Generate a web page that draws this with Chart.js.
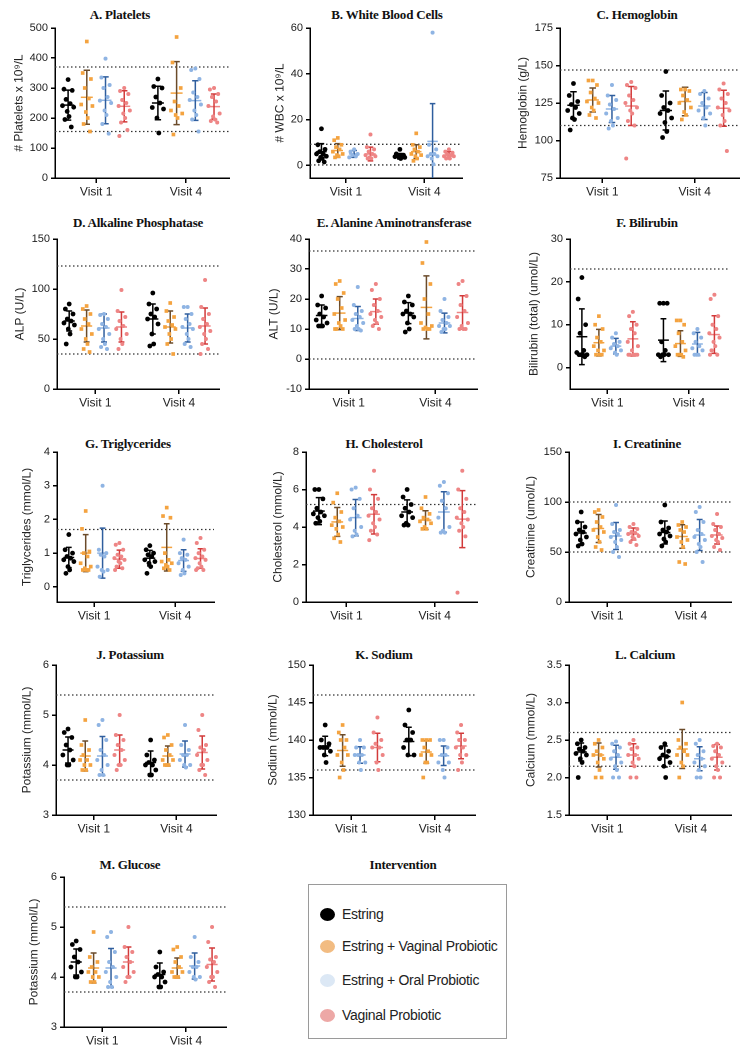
<!DOCTYPE html>
<html>
<head>
<meta charset="utf-8">
<script src="https://cdn.jsdelivr.net/npm/chart.js@4.4.1/dist/chart.umd.min.js"></script>
<style>
body{margin:0;width:750px;height:1062px;background:#fff;position:relative;overflow:hidden;font-family:"Liberation Sans",Arial,sans-serif}
canvas{position:absolute}
.ttl{position:absolute;font:bold 13px "Liberation Serif","Times New Roman",serif;transform:translate(-50%,-50%);white-space:nowrap;color:#111;letter-spacing:-0.2px}
.legbox{position:absolute;border:1.5px solid #9a9a9a;box-sizing:border-box}
.leg{position:absolute;left:0;height:20px;display:flex;align-items:center;font-size:14px;color:#222;white-space:nowrap;letter-spacing:-0.3px}
.leg i{display:inline-block;width:15px;height:13px;border-radius:50%;margin:0 7px 0 11px}
</style>
</head>
<body>
<script>
// group order in every panel: Visit 1 (Estring, +Vaginal, +Oral, Vaginal), then Visit 4 (same)
const groups = ["Estring", "Estring + Vaginal Probiotic", "Estring + Oral Probiotic", "Vaginal Probiotic"];
const visits = ["Visit 1", "Visit 4"];

const plateletsPts = [[328,296,292,262,248,241,236,222,205,195,170],[455,350,330,300,265,245,240,220,200,180,155],[398,335,310,300,270,258,250,225,210,180,148],[300,290,280,260,250,240,225,215,200,185,160,140],
  [330,305,300,270,250,235,230,200,150],[470,385,300,255,240,225,215,210,200,145],[365,360,330,285,270,260,245,225,210,195,155],[300,295,280,270,255,240,215,205,195,190,185]];
const plateletsMean = [243,269,259,239,250,283,258,238];
const plateletsSd = [50,90,78,52,56,105,66,42];
const plateletsRef = [370,155];
const plateletsTicks = [0,100,200,300,400,500];

const wbcPts = [[16,9,7,6,5,5,4,3.5,3,2,1.5],[12,11,9,8,7,6,5,4.5,4,3.5],[7,6,5,4.5,4,3.5],[13.5,8,7,6,5,4.5,4,3.5,3,3],
  [7,5,4.5,4,4,3.8,3.5,3.5,3],[14,9,8,7,6,5,4.5,4,3,2],[58,9,7,5,5,4,4,3,0.5],[7,6,5.5,5,4.5,4,4,3.5,3,3]];
const wbcMean = [6,6.5,5,5,4,6,10.5,4.5];
const wbcSd = [3.5,3,1.5,3,1.2,3,16.5,1.5];
const wbcRef = [9.2,0.2];
const wbcTicks = [0,20,40,60];

const hgbPts = [[138,130,126,124,122,120,118,115,114,107],[140,140,137,132,128,126,125,122,120,117,115],[137,130,127,124,121,118,115,113,110,108],[139,137,135,130,127,125,122,120,118,113,110,88],
  [146,130,125,122,120,118,115,112,106,102],[134,134,133,130,127,125,122,119,117,114],[133,131,128,125,122,120,118,115,110],[138,134,131,128,125,122,120,117,113,110,93]];
const hgbMean = [123.5,127,121,123,120,126,123,121.5];
const hgbSd = [9,8,9,13,13,9.5,9,12];
const hgbRef = [147,110];
const hgbTicks = [75,100,125,150,175];

const alpPts = [[85,80,75,70,68,66,64,60,55,45],[83,80,75,70,65,60,55,50,45,40,37],[75,74,70,65,62,60,55,50,45,42,40],[99,78,72,68,63,60,55,50,45,40],
  [96,85,80,75,72,70,65,55,45,43],[86,78,72,68,64,62,60,55,50,45,35],[82,82,75,70,65,62,60,55,50,45,42],[109,82,75,70,65,62,58,55,50,45,40,35]];
const alpMean = [68,63,61,62,70,62,61,63];
const alpSd = [10,16,14,15,15,16,14,18];
const alpRef = [123,35];
const alpTicks = [0,50,100,150];

const altPts = [[21,18,17,15,14,13,12,11,11,11],[26,25,22,20,17,15,13,12,11,10,10,10],[24,18,16,15,14,13,12,11,10,10,9.5],[25,23,20,18,16,15,14,13,12,11,10],
  [21,19,18,16,15,15,14,12,10,9],[39,32,25,20,15,12,11,10.5,10,10,10],[20,16,14,13,12,11,11,10,10,9],[26,25,21,18,16,14,12,11,10,10,10]];
const altMean = [14.5,15.3,13.5,15.8,15.3,17.2,12,15.5];
const altSd = [3.5,5.5,4,4.2,3.5,10.5,3.3,5.6];
const altRef = [36,0];
const altTicks = [-10,0,10,20,30,40];

const biliPts = [[21,16,10,8,4,3.5,3,3,3,3,2.5],[12,10,9,7,6,5,4,4,3,3,3],[8,7,6,5.5,5,4.5,4,3.5,3],[13,12,10,9,8,6,5,4,3,3,3,3,3],
  [15,15,15,6,4,3,3,3,3,2.5],[11,11,10,8,6,5,4,3,3,3,2.5],[9,8,7,6,5,4.5,4,3,3,3],[17,16,12,10,9,8,7,6,5,4,3,3]];
const biliMean = [7.2,5.8,5,6.7,6.4,5.6,5.5,7.7];
const biliSd = [6.5,3.1,1.8,4,5,3,2.7,4.4];
const biliRef = [23];
const biliTicks = [0,10,20,30];

const trigPts = [[1.55,1.1,1.0,0.9,0.85,0.8,0.75,0.6,0.5,0.4],[2.25,1.72,1.05,1.0,0.9,0.7,0.6,0.55,0.5,0.5,0.5],[3.0,1.1,1.0,0.95,0.9,0.6,0.5,0.5,0.45,0.3],[1.3,1.25,1.1,0.95,0.9,0.85,0.8,0.75,0.7,0.6,0.55,0.5],
  [1.22,1.1,1.0,0.95,0.9,0.8,0.75,0.7,0.6,0.4],[2.35,2.1,2.05,1.0,0.8,0.75,0.7,0.65,0.6,0.55,0.5],[1.4,1.0,0.95,0.85,0.8,0.7,0.6,0.5,0.4,0.35],[1.45,1.3,1.1,1.0,0.9,0.85,0.8,0.7,0.6,0.55,0.5,0.5]];
const trigMean = [0.87,1.0,1.0,0.82,0.85,1.17,0.78,0.84];
const trigSd = [0.3,0.55,0.74,0.27,0.23,0.7,0.32,0.29];
const trigRef = [1.7];
const trigTicks = [0,1,2,3,4];

const cholPts = [[6.0,6.0,5.5,5.0,4.8,4.7,4.6,4.5,4.3,4.2],[5.8,5.3,4.8,4.5,4.3,4.1,4.0,3.9,3.6,3.4,3.2],[6.1,6.0,5.5,5.0,4.6,4.4,4.0,3.8,3.6,3.5],[7.0,6.0,5.5,5.0,4.8,4.6,4.4,4.2,4.0,3.8,3.6,3.3],
  [6.0,5.6,5.2,5.0,4.8,4.6,4.5,4.2,4.1,4.1],[5.6,5.0,4.7,4.5,4.4,4.3,4.2,4.0,3.9,3.9],[6.4,6.2,5.8,5.4,5.0,4.5,4.0,3.8,3.7,3.7],[7.0,6.0,5.5,5.0,4.8,4.5,4.4,4.2,4.0,3.8,3.5,0.5]];
const cholMean = [4.85,4.27,4.5,4.68,4.8,4.37,4.8,4.42];
const cholSd = [0.72,0.77,0.97,1.05,0.65,0.5,1.08,1.52];
const cholRef = [5.2];
const cholTicks = [0,2,4,6,8];

const creatPts = [[90,80,75,72,70,68,65,62,58,56],[92,90,85,80,75,72,70,65,60,55,52],[97,78,72,70,68,65,62,60,55,50,45],[78,75,73,70,69,68,66,65,63,60,57],
  [97,80,74,72,70,68,66,63,60,56],[80,77,75,72,70,65,62,60,55,40,38],[95,90,80,72,68,65,62,58,55,50,40],[88,78,75,72,68,66,64,62,60,55,52]];
const creatMean = [69,73.5,66,68,69.5,65.5,67,67];
const creatSd = [11,14,13.5,6,11.5,11.7,15.5,9];
const creatRef = [100,50];
const creatTicks = [0,50,100,150];

const potPts = [[4.72,4.65,4.55,4.4,4.3,4.2,4.1,4.0,4.0],[4.9,4.4,4.3,4.2,4.1,4.1,4.0,4.0,3.9,3.9],[4.9,4.8,4.5,4.3,4.2,4.1,4.0,3.9,3.8,3.8],[5.0,4.6,4.5,4.4,4.3,4.2,4.1,4.0,4.0,3.9],
  [4.5,4.2,4.1,4.05,4.0,4.0,3.9,3.8,3.8],[4.6,4.55,4.4,4.3,4.2,4.1,4.1,4.0,4.0,4.0],[4.8,4.4,4.3,4.2,4.2,4.1,4.0,4.0,3.95],[5.0,4.7,4.4,4.35,4.3,4.2,4.1,4.0,4.0,3.9,3.8]];
const potMean = [4.3,4.18,4.18,4.3,4.05,4.18,4.22,4.25];
const potSd = [0.26,0.3,0.39,0.3,0.23,0.2,0.26,0.33];
const potRef = [5.4,3.7];
const potTicks = [3,4,5,6];

const naPts = [[142,140,139.5,139,139,139,138.5,138,137],[142,141,140,140,139,138,138,137,136,135],[140,139,139,138,138,138,137,137,136],[143,141,140,139.5,139,139,138,137,136],
  [144,142,141,140,140,139,138,138],[140,140,140,139,138.5,138,138,137,137,135],[140,140,139,138,138,137,137,136,135],[142,141,140,140,139,139,138,138,137,136]];
const naMean = [139.2,138.6,138,139,139.8,138.4,137.9,139.2];
const naSd = [1.3,2.1,1.1,1.9,1.9,1.5,1.3,1.7];
const naRef = [146,136];
const naTicks = [130,135,140,145,150];

const caPts = [[2.5,2.45,2.4,2.38,2.35,2.32,2.3,2.25,2.2,2.0],[2.5,2.45,2.4,2.35,2.3,2.3,2.25,2.2,2.1,2.0,2.0],[2.48,2.45,2.4,2.35,2.3,2.25,2.2,2.15,2.1,2.0,2.0],[2.5,2.45,2.4,2.38,2.3,2.3,2.25,2.2,2.15,2.0,2.0],
  [2.45,2.4,2.35,2.3,2.28,2.25,2.2,2.15,2.0],[3.0,2.5,2.45,2.4,2.35,2.3,2.3,2.2,2.15,2.0],[2.5,2.45,2.35,2.3,2.25,2.2,2.15,2.1,2.0,2.0],[2.45,2.42,2.4,2.35,2.3,2.25,2.2,2.15,2.1,2.0,2.0]];
const caMean = [2.34,2.3,2.27,2.3,2.28,2.38,2.25,2.27];
const caSd = [0.12,0.16,0.16,0.15,0.14,0.26,0.16,0.17];
const caRef = [2.6,2.15];
const caTicks = [1.5,2.0,2.5,3.0,3.5];

// panel M in the source repeats the potassium plot
const gluPts = [[4.72,4.65,4.55,4.4,4.3,4.2,4.1,4.0,4.0],[4.9,4.4,4.3,4.2,4.1,4.1,4.0,4.0,3.9,3.9],[4.9,4.8,4.5,4.3,4.2,4.1,4.0,3.9,3.8,3.8],[5.0,4.6,4.5,4.4,4.3,4.2,4.1,4.0,4.0,3.9],
  [4.5,4.2,4.1,4.05,4.0,4.0,3.9,3.8,3.8],[4.6,4.55,4.4,4.3,4.2,4.1,4.1,4.0,4.0,4.0],[4.8,4.4,4.3,4.2,4.2,4.1,4.0,4.0,3.95],[5.0,4.7,4.4,4.35,4.3,4.2,4.1,4.0,4.0,3.9,3.8]];
const gluMean = [4.3,4.18,4.18,4.3,4.05,4.18,4.22,4.25];
const gluSd = [0.26,0.3,0.39,0.3,0.23,0.2,0.26,0.33];
const gluRef = [5.4,3.7];
const gluTicks = [3,4,5,6];

// styling
const COL = [
  {pt:"#000000", bar:"#000000", mean:"#000000", shape:"circle", r:2.4, legend:"#000000"},
  {pt:"#F4A340", bar:"#6B4B2A", mean:"#F4A340", shape:"rect",   r:2.6, legend:"#F2BC82"},
  {pt:"#8FB4E3", bar:"#2F5E9E", mean:"#8FB4E3", shape:"circle", r:2.0, legend:"#DCE8F5"},
  {pt:"#EE8585", bar:"#D23A3A", mean:"#EE8585", shape:"circle", r:2.0, legend:"#EDA8A6"}
];
const POS = [1,2,3,4,5.8,6.8,7.8,8.8];
const JIT = [0,-0.22,0.22,-0.11,0.11,-0.3,0.3,-0.05,0.05,-0.17,0.17,-0.26,0.26];
const XMIN = 0.3, XMAX = 9.6;
const YW = 60, XH = 26, PT = 10;

const panels = [
  {t:"A. Platelets", yt:"# Platelets x 10\u2079/L", pts:plateletsPts, mean:plateletsMean, sd:plateletsSd, ref:plateletsRef, ticks:plateletsTicks, min:0, max:500, ax:55, rx:230, top:28, tx:120, ty:15, yo:36},
  {t:"B. White Blood Cells", yt:"# WBC x 10\u2079/L", pts:wbcPts, mean:wbcMean, sd:wbcSd, ref:wbcRef, ticks:wbcTicks, min:-5.5, max:60, ax:310, rx:463, top:28, tx:387, ty:15, yo:30},
  {t:"C. Hemoglobin", yt:"Hemoglobin (g/L)", pts:hgbPts, mean:hgbMean, sd:hgbSd, ref:hgbRef, ticks:hgbTicks, min:75, max:175, ax:560, rx:740, top:28, tx:637, ty:15, yo:37},
  {t:"D. Alkaline Phosphatase", yt:"ALP (U/L)", pts:alpPts, mean:alpMean, sd:alpSd, ref:alpRef, ticks:alpTicks, min:0, max:150, ax:57, rx:220, top:239, tx:138, ty:223, yo:37},
  {t:"E. Alanine Aminotransferase", yt:"ALT (U/L)", pts:altPts, mean:altMean, sd:altSd, ref:altRef, ticks:altTicks, min:-10, max:40, ax:309, rx:478, top:239, tx:394, ty:223, yo:35},
  {t:"F. Bilirubin", yt:"Bilirubin (total) (umol/L)", pts:biliPts, mean:biliMean, sd:biliSd, ref:biliRef, ticks:biliTicks, min:-5, max:30, ax:570, rx:729, top:239, tx:647, ty:223, yo:36},
  {t:"G. Triglycerides", yt:"Triglycerides (mmol/L)", pts:trigPts, mean:trigMean, sd:trigSd, ref:trigRef, ticks:trigTicks, min:-0.45, max:4, ax:57, rx:215, top:452, tx:128, ty:444, yo:30},
  {t:"H. Cholesterol", yt:"Cholesterol (mmol/L)", pts:cholPts, mean:cholMean, sd:cholSd, ref:cholRef, ticks:cholTicks, min:0, max:8, ax:306, rx:478, top:452, tx:384, ty:444, yo:28},
  {t:"I. Creatinine", yt:"Creatinine (umol/L)", pts:creatPts, mean:creatMean, sd:creatSd, ref:creatRef, ticks:creatTicks, min:0, max:150, ax:569, rx:732, top:452, tx:647, ty:444, yo:38},
  {t:"J. Potassium", yt:"Potassium (mmol/L)", pts:potPts, mean:potMean, sd:potSd, ref:potRef, ticks:potTicks, min:3, max:6, ax:56, rx:217, top:665, tx:130, ty:655, yo:29},
  {t:"K. Sodium", yt:"Sodium (mmol/L)", pts:naPts, mean:naMean, sd:naSd, ref:naRef, ticks:naTicks, min:130, max:150, ax:313, rx:476, top:665, tx:384, ty:655, yo:40},
  {t:"L. Calcium", yt:"Calcium (mmol/L)", pts:caPts, mean:caMean, sd:caSd, ref:caRef, ticks:caTicks, min:1.5, max:3.5, ax:569, rx:732, top:665, tx:645, ty:655, yo:38, fix:1},
  {t:"M. Glucose", yt:"Potassium (mmol/L)", pts:gluPts, mean:gluMean, sd:gluSd, ref:gluRef, ticks:gluTicks, min:3, max:6, ax:64, rx:227, top:877, tx:130, ty:865, yo:30}
];

function addTitle(text, x, y) {
  const d = document.createElement("div");
  d.className = "ttl";
  d.textContent = text;
  d.style.left = x + "px";
  d.style.top = y + "px";
  document.body.appendChild(d);
}

function makePanel(p) {
  addTitle(p.t, p.tx, p.ty);
  const cv = document.createElement("canvas");
  const left = p.ax - YW, w = p.rx - left + 3, h = 150 + PT + XH;
  cv.width = w; cv.height = h;
  cv.style.left = left + "px"; cv.style.top = (p.top - PT) + "px";
  cv.style.width = w + "px"; cv.style.height = h + "px";
  document.body.appendChild(cv);

  const ds = [];
  p.pts.forEach((arr, g) => {
    const c = COL[g % 4], x = POS[g], m = p.mean[g], s = p.sd[g], cw = 0.17;
    ds.push({type:"scatter", data: arr.map((v, i) => ({x: x + JIT[i % JIT.length], y: v})),
      pointStyle: c.shape, pointRadius: c.r, backgroundColor: c.pt, borderWidth: 0, order: 1});
    ds.push({type:"line", data: [{x:x-cw,y:m+s},{x:x+cw,y:m+s},{x:x,y:null},{x:x,y:m+s},{x:x,y:m-s},{x:x,y:null},{x:x-cw,y:m-s},{x:x+cw,y:m-s}],
      borderColor: c.bar, borderWidth: 1.5, pointRadius: 0, spanGaps: false, order: 2});
    ds.push({type:"line", data: [{x:x-0.32,y:m},{x:x+0.32,y:m}], borderColor: c.mean, borderWidth: 1.5, pointRadius: 0, order: 2});
  });
  p.ref.forEach(r => ds.push({type:"line", data: [{x:XMIN,y:r},{x:XMAX,y:r}], borderColor: "#333",
    borderWidth: 1.3, borderDash: [1.5, 2.5], pointRadius: 0, order: 3}));

  new Chart(cv, {
    type: "scatter",
    data: {datasets: ds},
    options: {
      responsive: false, animation: false, devicePixelRatio: 2,
      layout: {padding: {top: PT, right: 3, left: 0, bottom: 0}},
      plugins: {legend: {display: false}, tooltip: {enabled: false}},
      scales: {
        x: {type: "linear", min: XMIN, max: XMAX,
          afterBuildTicks: s => { s.ticks = [{value: 2.5}, {value: 7.3}]; },
          afterFit: s => { s.height = XH; },
          ticks: {callback: v => v < 5 ? visits[0] : visits[1], color: "#222", font: {size: 12, family: "Liberation Sans"}, padding: 2, maxRotation: 0, autoSkip: false},
          grid: {drawOnChartArea: false, drawTicks: true, tickLength: 5, color: "#000", lineWidth: 1.5},
          border: {color: "#000", width: 1.5}},
        y: {type: "linear", min: p.min, max: p.max,
          afterBuildTicks: s => { s.ticks = p.ticks.map(v => ({value: v})); },
          afterFit: s => { s.width = YW; },
          ticks: {callback: v => p.fix ? v.toFixed(1) : String(v), color: "#222", font: {size: 11, family: "Liberation Sans"}, padding: 3},
          grid: {drawOnChartArea: false, drawTicks: true, tickLength: 4, color: "#000", lineWidth: 1.5},
          border: {color: "#000", width: 1.5},
          title: {display: true, text: p.yt, color: "#222", font: {size: 12, family: "Liberation Sans"}, padding: {top: YW - p.yo - 7.2, bottom: 0}}}
      }
    }
  });
}

panels.forEach(makePanel);

// legend panel
addTitle("Intervention", 403, 865);
const box = document.createElement("div");
box.className = "legbox";
Object.assign(box.style, {left: "308px", top: "884px", width: "199px", height: "155px"});
const legY = [19, 51, 85, 120];
groups.forEach((g, i) => {
  const row = document.createElement("div");
  row.className = "leg";
  row.style.top = legY[i] + "px";
  const dot = document.createElement("i");
  dot.style.background = COL[i].legend;
  row.appendChild(dot);
  row.appendChild(document.createTextNode(g));
  box.appendChild(row);
});
document.body.appendChild(box);
</script>
</body>
</html>
